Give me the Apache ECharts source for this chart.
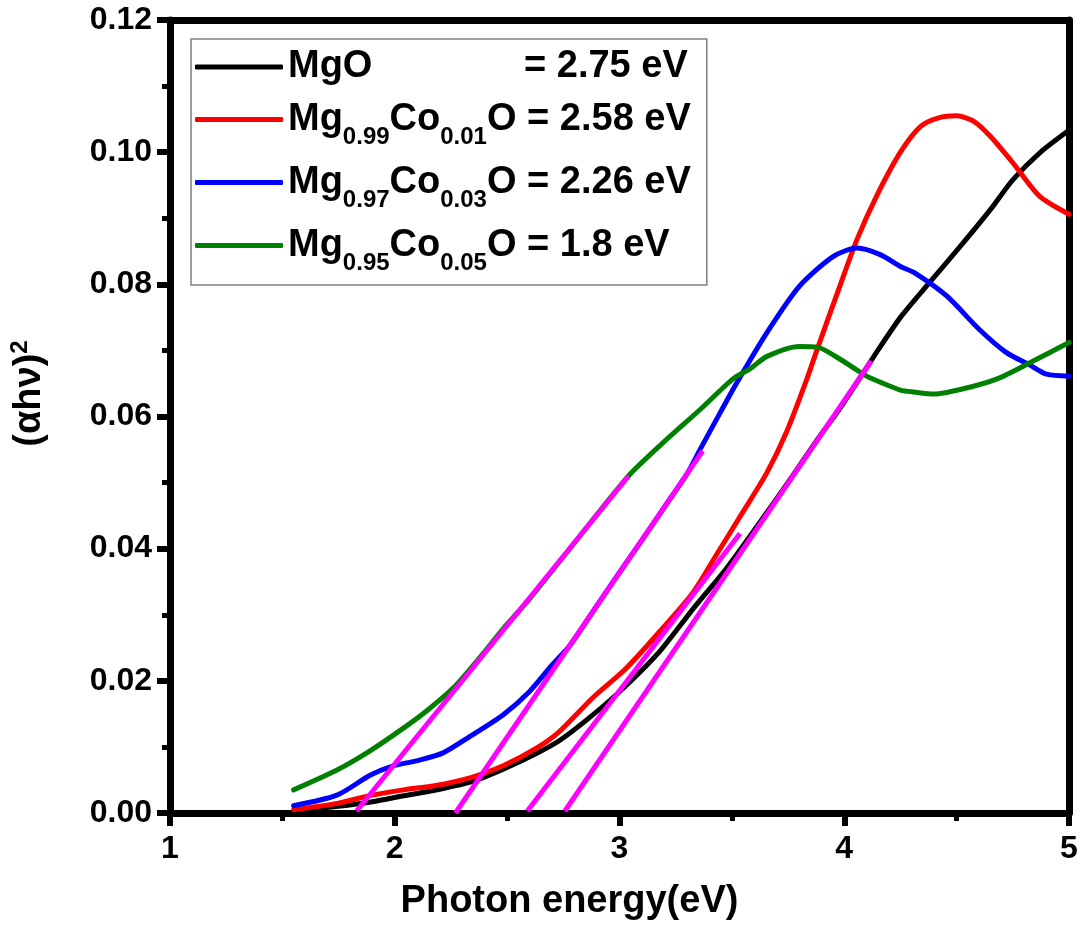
<!DOCTYPE html>
<html>
<head>
<meta charset="utf-8">
<script src="https://cdn.jsdelivr.net/npm/echarts@6/dist/echarts.min.js"></script>
<style>
html,body{margin:0;padding:0;background:#fff;}
#chart{width:1081px;height:926px;}
</style>
</head>
<body>
<div id="chart"></div>
<script>
// ---- data ----
const seriesNames = ['MgO', 'Mg0.99Co0.01O', 'Mg0.97Co0.03O', 'Mg0.95Co0.05O'];
const bandGaps = ['2.75', '2.58', '2.26', '1.8'];

const mgO = [[1.55,0.0003],[1.75,0.0010],[1.9,0.0017],[2.04,0.0026],[2.2,0.0036],[2.34,0.0047],[2.48,0.0066],[2.63,0.0090],[2.735,0.0110],[2.88,0.0148],[3.03,0.0193],[3.18,0.0245],[3.33,0.0310],[3.48,0.0372],[3.625,0.0440],[3.77,0.0510],[3.88,0.0565],[3.98,0.0612],[4.13,0.0690],[4.25,0.0750],[4.38,0.0803],[4.53,0.0863],[4.65,0.0913],[4.75,0.0958],[4.87,0.0999],[5.0,0.1033]];
const co01 = [[1.55,0.0005],[1.75,0.0015],[1.9,0.0027],[2.04,0.0035],[2.19,0.0042],[2.335,0.0053],[2.48,0.0071],[2.63,0.0098],[2.735,0.0124],[2.88,0.0174],[3.03,0.0219],[3.18,0.0275],[3.33,0.0335],[3.43,0.0390],[3.55,0.0456],[3.656,0.0515],[3.745,0.0578],[3.834,0.0657],[3.88,0.0702],[3.98,0.0797],[4.057,0.0868],[4.146,0.0935],[4.25,0.1000],[4.34,0.1039],[4.42,0.1052],[4.50,0.1055],[4.58,0.1046],[4.65,0.1024],[4.75,0.0984],[4.87,0.0933],[5.0,0.0906]];
const co03 = [[1.55,0.0011],[1.743,0.0027],[1.89,0.0057],[1.99,0.0071],[2.11,0.0080],[2.215,0.0091],[2.335,0.0116],[2.48,0.0148],[2.60,0.0184],[2.70,0.0224],[2.78,0.0254],[2.9,0.0314],[3.0,0.0364],[3.1,0.0413],[3.2,0.0463],[3.3,0.0513],[3.36,0.0551],[3.45,0.0607],[3.52,0.0650],[3.656,0.0727],[3.80,0.0797],[3.95,0.0842],[4.057,0.0855],[4.16,0.0845],[4.25,0.0827],[4.31,0.0818],[4.457,0.0782],[4.60,0.0732],[4.72,0.0697],[4.83,0.0677],[4.90,0.0664],[5.0,0.0661]];
const co05 = [[1.55,0.0035],[1.743,0.0065],[1.89,0.0094],[2.037,0.0128],[2.14,0.0154],[2.26,0.0189],[2.39,0.0240],[2.48,0.0278],[2.6,0.0324],[2.8,0.0409],[3.04,0.0510],[3.18,0.0556],[3.36,0.0611],[3.505,0.0657],[3.58,0.0672],[3.656,0.0691],[3.80,0.0706],[3.88,0.0705],[3.98,0.0687],[4.10,0.0661],[4.16,0.0652],[4.25,0.0640],[4.31,0.0637],[4.40,0.0634],[4.53,0.0642],[4.68,0.0657],[4.83,0.0682],[5.0,0.0712]];

// tangent (Tauc) fit lines
const fitMgO = [[2.757,0.0003],[4.12,0.0684]];
const fitCo01 = [[2.59,0.0003],[3.536,0.0423]];
const fitCo03 = [[2.27,0.0],[3.37,0.0548]];
const fitCo05 = [[1.83,0.0003],[3.04,0.0510]];

const xTicks = [1, 2, 3, 4, 5];
const yTicks = [0, 0.02, 0.04, 0.06, 0.08, 0.10, 0.12];

// ---- chart ----
const FONT = '"Liberation Sans", Arial, Helvetica, sans-serif';
const colors = ['#000000', '#ff0000', '#0000ff', '#008000'];
const curves = [mgO, co01, co03, co05];
const fits = [fitMgO, fitCo01, fitCo03, fitCo05];

const legendLabels = {
  'MgO': '{m0|MgO}{m|= ' + bandGaps[0] + ' eV}',
  'Mg0.99Co0.01O': '{m|Mg}{s|0.99}{m|Co}{s|0.01}{m|O = ' + bandGaps[1] + ' eV}',
  'Mg0.97Co0.03O': '{m|Mg}{s|0.97}{m|Co}{s|0.03}{m|O = ' + bandGaps[2] + ' eV}',
  'Mg0.95Co0.05O': '{m|Mg}{s|0.95}{m|Co}{s|0.05}{m|O = ' + bandGaps[3] + ' eV}'
};

const series = [];
curves.forEach((d, i) => {
  series.push({
    name: seriesNames[i], type: 'line', data: d, smooth: 0.25,
    symbol: 'none', color: colors[i],
    lineStyle: {width: 5, color: colors[i], cap: 'round'},
    z: 2
  });
});
fits.forEach((d, i) => {
  series.push({
    name: 'fit' + i, type: 'line', data: d, symbol: 'none',
    lineStyle: {width: 5, color: '#ff00ff'}, z: 3, silent: true
  });
});

const chart = echarts.init(document.getElementById('chart'));
chart.setOption({
  backgroundColor: '#fff',
  animation: false,
  grid: {left: 170, right: 12, top: 20, bottom: 111},
  legend: {
    data: seriesNames.map(n => ({name: n, icon: 'roundRect'})),
    orient: 'vertical', left: 191, top: 39,
    padding: [9, 16, 10, 4], itemGap: 4,
    itemWidth: 88, itemHeight: 5,
    borderColor: '#808080', borderWidth: 1.5, backgroundColor: '#fff',
    formatter: n => legendLabels[n],
    textStyle: {
      fontFamily: FONT, fontWeight: 'bold', fontSize: 38, color: '#000',
      rich: {
        m0: {fontFamily: FONT, fontWeight: 'bold', fontSize: 38, lineHeight: 40, width: 236, color: '#000'},
        m: {fontFamily: FONT, fontWeight: 'bold', fontSize: 38, lineHeight: 40, color: '#000'},
        s: {fontFamily: FONT, fontWeight: 'bold', fontSize: 24, lineHeight: 24, padding: [35, 0, 0, 0], color: '#000'}
      }
    }
  },
  xAxis: [{
    type: 'value', min: 1, max: 5, interval: 1,
    name: 'Photon energy(eV)', nameLocation: 'middle', nameGap: 70,
    nameTextStyle: {fontFamily: FONT, fontWeight: 'bold', fontSize: 38, color: '#000', padding: [0, 100, 0, 0]},
    axisLine: {show: true, onZero: false, lineStyle: {color: '#000', width: 7}},
    axisTick: {show: true, length: 13, lineStyle: {width: 6, color: '#000'}},
    minorTick: {show: true, splitNumber: 2, length: 8, lineStyle: {width: 5, color: '#000'}},
    axisLabel: {fontFamily: FONT, fontWeight: 'bold', fontSize: 32, color: '#000', margin: 20,
      formatter: v => xTicks.includes(v) ? String(v) : ''},
    splitLine: {show: false}
  }, {
    type: 'value', min: 1, max: 5, position: 'top',
    axisLine: {show: true, onZero: false, lineStyle: {color: '#000', width: 7}},
    axisTick: {show: false}, axisLabel: {show: false}, splitLine: {show: false}
  }],
  yAxis: [{
    type: 'value', min: 0, max: 0.12, interval: 0.02,
    name: '{a|(αhν)}{sup|2}', nameLocation: 'middle', nameGap: 118, nameRotate: 90,
    nameTextStyle: {
      padding: [0, 0, 0, 46],
      rich: {
        a: {fontFamily: FONT, fontWeight: 'bold', fontSize: 38, color: '#000'},
        sup: {fontFamily: FONT, fontWeight: 'bold', fontSize: 24, color: '#000', verticalAlign: 'top', padding: [0, 0, 20, 0]}
      }
    },
    axisLine: {show: true, onZero: false, lineStyle: {color: '#000', width: 7}},
    axisTick: {show: true, length: 13, lineStyle: {width: 6, color: '#000'}},
    minorTick: {show: true, splitNumber: 2, length: 8, lineStyle: {width: 5, color: '#000'}},
    axisLabel: {fontFamily: FONT, fontWeight: 'bold', fontSize: 32, color: '#000', margin: 18,
      formatter: v => yTicks.some(t => Math.abs(t - v) < 1e-9) ? v.toFixed(2) : ''},
    splitLine: {show: false}
  }, {
    type: 'value', min: 0, max: 0.12, position: 'right',
    axisLine: {show: true, onZero: false, lineStyle: {color: '#000', width: 7}},
    axisTick: {show: false}, axisLabel: {show: false}, splitLine: {show: false}
  }],
  series: series
});
</script>
</body>
</html>
